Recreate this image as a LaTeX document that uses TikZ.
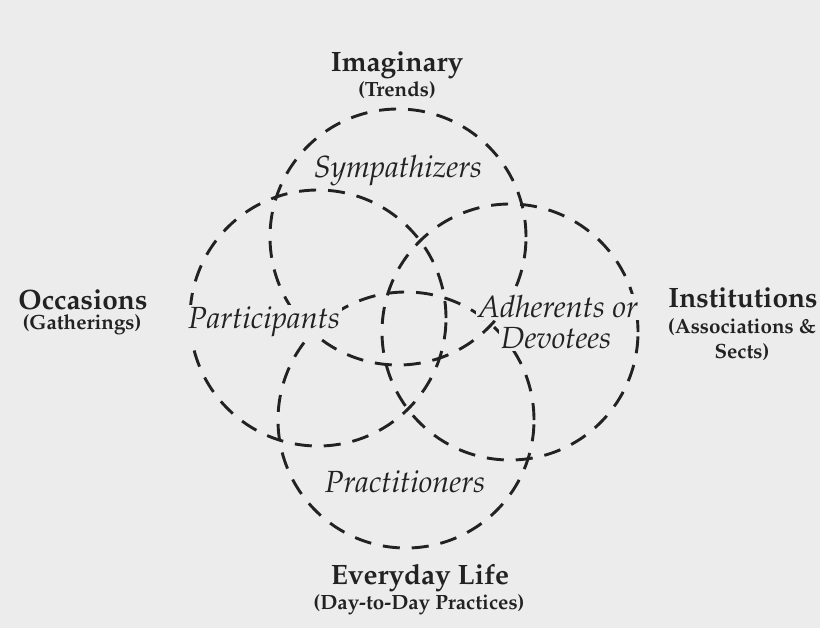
\documentclass[tikz,border=0pt]{standalone}
\usepackage[T1]{fontenc}
\usepackage{mathpazo}

\definecolor{paper}{RGB}{236,236,236}
\definecolor{ink}{RGB}{34,34,34}

\tikzset{
    ring/.style={draw=ink, line width=1.45pt, dash pattern=on 8.5pt off 6pt},
    realm/.style={text=ink, inner sep=0pt, font=\fontsize{14}{16}\selectfont\bfseries},
    realmsub/.style={text=ink, inner sep=0pt, font=\fontsize{10.3}{12}\selectfont\bfseries},
    role/.style={text=ink, fill=paper, inner sep=1pt, font=\fontsize{15.3}{17}\selectfont\itshape}
}

\begin{document}
\begin{tikzpicture}[x=0.5pt, y=-0.5pt]
    \fill[paper] (0,0) rectangle (820,628);
    \useasboundingbox (0,0) rectangle (820,628);

    \coordinate (Symp) at (398,237);
    \coordinate (Part) at (318,318);
    \coordinate (Adh) at (510,332);
    \coordinate (Prac) at (406,420);

    \draw[ring] (Symp) circle[radius=64pt];
    \draw[ring] (Part) circle[radius=64pt];
    \draw[ring] (Adh) circle[radius=64pt];
    \draw[ring] (Prac) circle[radius=64pt];

    \node[role] (sympathizers) at (398,171) {Sympathizers};
    \node[role] (participants) at (264,322) {Participants};
    \node[role] (adherents) at (558,307) {Adherents or};
    \node[role] (devotees) at (556,338) {Devotees};
    \node[role] (practitioners) at (405,482) {Practitioners};

    \node[realm] (imaginary) at (397,65) {Imaginary};
    \node[realmsub] (trends) at (397,90) {(Trends)};
    \node[realm] (occasions) at (83,300) {Occasions};
    \node[realmsub] (gatherings) at (82,325) {(Gatherings)};
    \node[realm] (institutions) at (743,298) {Institutions};
    \node[realmsub] (associations) at (742,327) {(Associations \&};
    \node[realmsub] (sects) at (742,352) {Sects)};
    \node[realm] (everyday) at (420,578) {Everyday Life};
    \node[realmsub] (practices) at (419,605) {(Day-to-Day Practices)};
\end{tikzpicture}
\end{document}
